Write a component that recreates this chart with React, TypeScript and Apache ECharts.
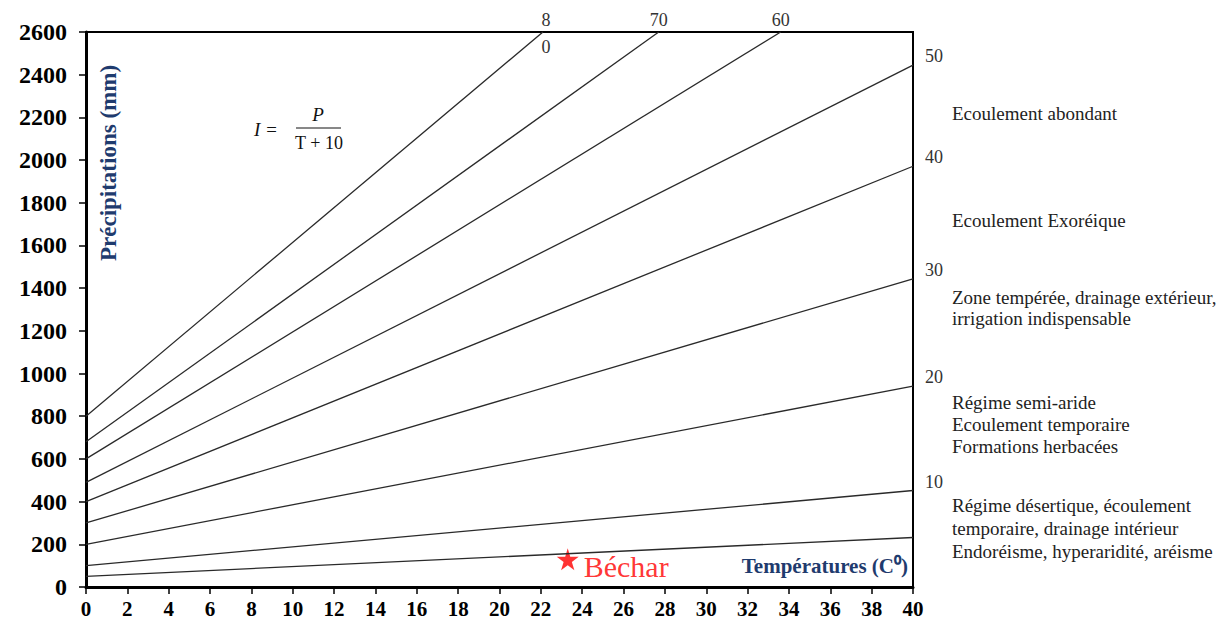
import React, { useEffect, useRef } from "react";
import * as echarts from "echarts";

// De Martonne aridity index lines: P = I (T + 10)
const indexLabels = ["5", "10", "20", "30", "40", "50", "60", "70", "80"];
const startT = [0, 0, 0, 0, 0, 0, 0, 0, 0];
const startP = [50, 100, 200, 300, 400, 490, 600, 680, 800];
const endT = [40, 40, 40, 40, 40, 40, 33.6, 27.7, 22.1];
const endP = [232, 452, 941, 1444, 1971, 2445, 2600, 2600, 2600];

const stationName = "Béchar";
const stationT = 23.3;
const stationP = 130;

const zoneTexts = [
  "Ecoulement abondant",
  "Ecoulement Exoréique",
  "Zone tempérée, drainage extérieur,",
  "irrigation indispensable",
  "Régime semi-aride",
  "Ecoulement temporaire",
  "Formations herbacées",
  "Régime désertique, écoulement",
  "temporaire, drainage intérieur",
  "Endoréisme, hyperaridité, aréisme",
];
const zoneY = [113, 220, 297, 318, 402, 424, 446, 505, 528, 551];

const SERIF = "Liberation Serif";
const STAR =
  "path://M50,0 L61,35 L98,35 L68,57 L79,91 L50,70 L21,91 L32,57 L2,35 L39,35 Z";

export default function App() {
  const ref = useRef<HTMLDivElement>(null);
  useEffect(() => {
    if (!ref.current) return;
    const chart = echarts.init(ref.current, null, { renderer: "svg" });

    const lineSeries = indexLabels.map((lab, i) => {
      const topEnd = endP[i] >= 2600;
      const isEighty = lab === "80";
      return {
        type: "line",
        name: lab,
        data: [
          [startT[i], startP[i]],
          [endT[i], endP[i]],
        ],
        showSymbol: false,
        symbol: "none",
        lineStyle: { color: "#2a2a2a", width: 1.3 },
        silent: true,
        endLabel: {
          show: lab !== "5",
          formatter: isEighty ? "8\n\n0" : lab,
          distance: 0,
          fontFamily: SERIF,
          fontSize: 18,
          color: "#333",
          lineHeight: isEighty ? 13.5 : 20,
          align: topEnd ? "center" : "left",
          verticalAlign: topEnd && !isEighty ? "bottom" : "middle",
          offset: isEighty ? [3, 1] : topEnd ? [0, -2] : [12, -9],
        },
      };
    });

    const txt = (
      x: number,
      y: number,
      text: string,
      size: number,
      fill: string,
      align = "left",
      weight = "normal",
      fstyle = "normal",
      extra: any = {}
    ) => ({
      type: "text",
      x,
      y,
      ...extra,
      style: {
        text,
        fontFamily: SERIF,
        fontSize: size,
        fontWeight: weight,
        fontStyle: fstyle,
        fill,
        align,
        verticalAlign: "middle",
      },
    });

    chart.setOption({
      animation: false,
      grid: {
        left: 86,
        top: 32,
        width: 827,
        height: 555,
        show: true,
        borderColor: "#000",
        borderWidth: 2,
        backgroundColor: "transparent",
      },
      xAxis: {
        type: "value",
        min: 0,
        max: 40,
        interval: 2,
        axisLine: { show: true, lineStyle: { color: "#000", width: 3 } },
        axisTick: { show: true, length: 7, lineStyle: { color: "#000", width: 1.5 } },
        axisLabel: {
          fontFamily: SERIF,
          fontWeight: "bold",
          fontSize: 21,
          color: "#000",
          margin: 11,
          formatter: (v: number) => String(v),
        },
        splitLine: { show: false },
      },
      yAxis: {
        type: "value",
        min: 0,
        max: 2600,
        interval: 200,
        axisLine: { show: true, lineStyle: { color: "#000", width: 3 } },
        axisTick: { show: true, length: 7, lineStyle: { color: "#000", width: 1.5 } },
        axisLabel: {
          fontFamily: SERIF,
          fontWeight: "bold",
          fontSize: 24,
          color: "#000",
          margin: 19,
          formatter: (v: number) => String(v),
        },
        splitLine: { show: false },
      },
      series: [
        ...lineSeries,
        {
          type: "scatter",
          data: [[stationT, stationP]],
          symbol: STAR,
          symbolSize: 22,
          itemStyle: { color: "#ff0000" },
          label: {
            show: true,
            formatter: stationName,
            position: "right",
            distance: 5,
            offset: [0, 7],
            fontFamily: SERIF,
            fontSize: 30,
            color: "#ff0000",
          },
          silent: true,
        },
      ],
      graphic: [
        txt(108, 163, "Précipitations (mm)", 23, "#1f3b6e", "center", "bold", "normal", {
          rotation: Math.PI / 2,
        }),
        txt(908, 566, "Températures (C⁰)", 21, "#1f3b6e", "right", "bold"),
        txt(254, 129, "I =", 19, "#111", "left", "normal", "italic"),
        txt(318, 114, "P", 19, "#111", "center", "normal", "italic"),
        {
          type: "line",
          shape: { x1: 296, y1: 128, x2: 341, y2: 128 },
          style: { stroke: "#111", lineWidth: 1 },
        },
        txt(319, 143, "T + 10", 18, "#111", "center"),
        ...zoneTexts.map((t, i) => txt(952, zoneY[i], t, 19, "#222")),
      ],
    });
    return () => chart.dispose();
  }, []);

  return (
    <div
      ref={ref}
      style={{ position: "fixed", left: 0, top: 0, width: 1224, height: 626, background: "#fff" }}
    />
  );
}
